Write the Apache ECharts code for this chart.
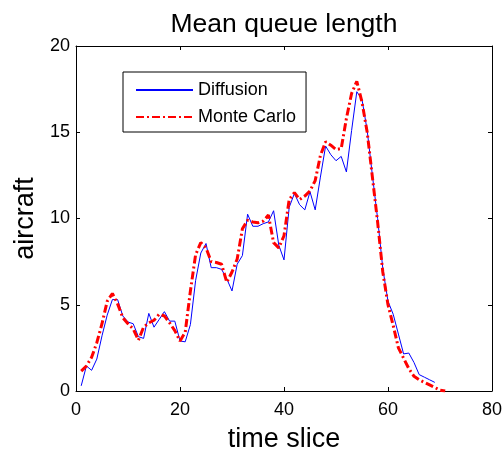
<!DOCTYPE html>
<html>
<head>
<meta charset="utf-8">
<script src="https://cdn.jsdelivr.net/npm/echarts@6/dist/echarts.min.js"></script>
<style>html,body{margin:0;padding:0;background:#fff;}#c{width:504px;height:450px;}</style>
</head>
<body>
<div id="c"></div>
<script>
var diffusionX = [1,2,3,4,5,6,7,8,9,10,11,12,13,14,15,16,17,18,19,20,21,22,23,24,25,26,27,28,29,30,31,32,33,34,35,36,37,38,39,40,41,42,43,44,45,46,47,48,49,50,51,52,53,54,55,56,57,58,59,60,61,62,63,64,65,66,67,68,69];
var diffusion = [0.3,1.45,1.2,1.85,3.2,4.4,5.3,5.3,4.35,4.0,3.9,3.15,3.05,4.5,3.7,4.15,4.6,4.05,4.05,2.9,2.85,3.85,6.4,8.0,8.55,7.15,7.15,7.05,6.5,5.8,7.35,7.85,10.25,9.55,9.55,9.7,9.8,10.45,8.45,7.6,10.65,11.45,10.8,10.5,11.55,10.5,12.4,14.2,13.7,13.35,13.6,12.7,15.1,17.35,16.9,15.1,12.5,10.0,7.1,5.2,4.45,3.3,2.15,2.2,1.65,0.95,0.8,0.65,0.5];
var monteCarloX = [1,2,3,4,5,6,7,8,9,10,11,12,13,14,15,16,17,18,19,20,21,22,23,24,25,26,27,28,29,30,31,32,33,34,35,36,37,38,39,40,41,42,43,44,45,46,47,48,49,50,51,52,53,54,55,56,57,58,59,60,61,62,63,64,65,66,67,68,69,70,71];
var monteCarlo = [1.15,1.45,1.95,2.8,3.9,5.2,5.65,5.05,4.25,3.9,3.6,2.95,3.7,3.95,4.1,4.45,4.35,3.95,3.5,2.9,3.4,5.8,7.9,8.6,8.3,7.5,7.45,7.35,6.3,6.9,7.65,9.4,9.9,9.8,9.75,9.85,10.2,8.6,8.3,9.0,11.1,11.5,11.1,11.3,11.6,12.2,13.65,14.45,14.25,14.0,14.05,15.8,17.25,17.95,16.75,15.0,12.4,9.8,6.9,5.0,3.8,2.5,1.9,1.3,0.85,0.65,0.5,0.35,0.2,0.05,0.0];
var xTicks = [0,20,40,60,80];
var yTicks = [0,5,10,15,20];

function pairs(xs, ys){ return xs.map(function(x,i){ return [x, ys[i]]; }); }

var FONT = 'Liberation Sans, Arial, sans-serif';
var chart = echarts.init(document.getElementById('c'), null, {renderer:'canvas'});
var tickStyle = {show:true, inside:true, length:4, lineStyle:{color:'#000', width:1}};
var lineStyle = {show:true, onZero:false, lineStyle:{color:'#000', width:1}};
chart.setOption({
  animation:false,
  backgroundColor:'#fff',
  title:{
    text:'Mean queue length', left:279, top:6, textAlign:'center',
    textStyle:{fontFamily:FONT, fontSize:26.5, fontWeight:'normal', color:'#000'}
  },
  grid:{left:76, right:12, top:46, bottom:59, containLabel:false, outerBoundsMode:'none'},
  legend:{
    orient:'vertical', left:123, top:72,
    padding:[9,10,6,12], itemGap:9, itemWidth:57, itemHeight:14,
    backgroundColor:'#fff', borderColor:'#000', borderWidth:1, borderRadius:0,
    itemStyle:{opacity:0, color:'rgba(0,0,0,0)', borderWidth:0},
    textStyle:{fontFamily:FONT, fontSize:18, color:'#000'},
    data:['Diffusion','Monte Carlo']
  },
  xAxis:[{
    type:'value', min:xTicks[0], max:xTicks[xTicks.length-1], interval:20,
    name:'time slice', nameLocation:'middle', nameGap:35,
    nameTextStyle:{fontFamily:FONT, fontSize:27, color:'#000'},
    axisLine:lineStyle, axisTick:tickStyle, splitLine:{show:false},
    axisLabel:{fontFamily:FONT, fontSize:18, color:'#000', margin:10}
  },{
    type:'value', position:'top', min:0, max:80, interval:20,
    axisLine:lineStyle, axisTick:tickStyle, splitLine:{show:false}, axisLabel:{show:false}
  }],
  yAxis:[{
    type:'value', min:yTicks[0], max:yTicks[yTicks.length-1], interval:5,
    name:'aircraft', nameLocation:'middle', nameGap:37,
    nameTextStyle:{fontFamily:FONT, fontSize:27, color:'#000'},
    axisLine:lineStyle, axisTick:tickStyle, splitLine:{show:false},
    axisLabel:{fontFamily:FONT, fontSize:18, color:'#000', margin:6}
  },{
    type:'value', position:'right', min:0, max:20, interval:5,
    axisLine:lineStyle, axisTick:tickStyle, splitLine:{show:false}, axisLabel:{show:false}
  }],
  series:[{
    name:'Diffusion', type:'line', xAxisIndex:0, yAxisIndex:0,
    data:pairs(diffusionX, diffusion), showSymbol:false, symbol:'none',
    lineStyle:{color:'#0000ff', width:1}, itemStyle:{color:'#0000ff'}, z:2
  },{
    name:'Monte Carlo', type:'line', xAxisIndex:0, yAxisIndex:0,
    data:pairs(monteCarloX, monteCarlo), showSymbol:false, symbol:'none',
    lineStyle:{color:'#ff0000', width:3, type:[8,3,2,3]}, itemStyle:{color:'#ff0000'}, z:3
  }]
});
</script>
</body>
</html>
